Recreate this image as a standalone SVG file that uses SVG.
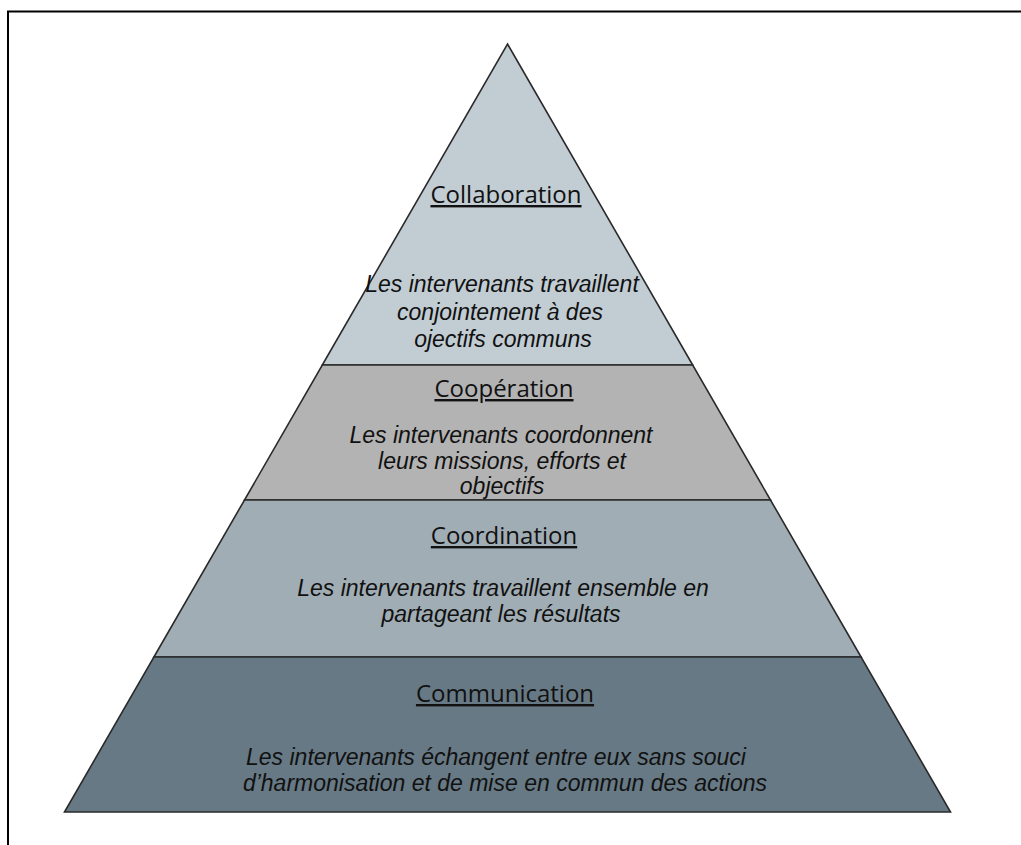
<svg xmlns="http://www.w3.org/2000/svg" width="1021" height="845" viewBox="0 0 1021 845">
<style>
.band{stroke:#2a2a2a;stroke-width:1.6;stroke-linejoin:miter}
.title{font-family:"Open Sans","Liberation Sans",sans-serif;font-size:24px;fill:#111;text-anchor:middle;text-decoration:underline}
.body{font-family:"Liberation Sans",Arial,sans-serif;font-size:23px;font-style:italic;fill:#111;text-anchor:middle}
</style>
<rect width="1021" height="845" fill="#ffffff"/>
<g id="frame">
<polyline points="8,845 8,11.5 1021,11.5" fill="none" stroke="#000" stroke-width="2"/>
</g>
<g id="collaboration">
<polygon class="band" points="507.5,44 692.7,365 322.3,365" fill="#c1ccd3"/>
<text class="title" x="506" y="203">Collaboration</text>
<text class="body" x="502" y="292">Les intervenants travaillent</text>
<text class="body" x="500" y="320">conjointement à des</text>
<text class="body" x="503" y="347">ojectifs communs</text>
</g>
<g id="cooperation">
<polygon class="band" points="322.3,365 692.7,365 770.5,500 244.5,500" fill="#b3b3b3"/>
<text class="title" x="504" y="397">Coopération</text>
<text class="body" x="501" y="443">Les intervenants coordonnent</text>
<text class="body" x="502" y="469">leurs missions, efforts et</text>
<text class="body" x="502" y="494">objectifs</text>
</g>
<g id="coordination">
<polygon class="band" points="244.5,500 770.5,500 861.1,657 153.9,657" fill="#a0adb4"/>
<text class="title" x="504" y="544">Coordination</text>
<text class="body" x="503" y="596">Les intervenants travaillent ensemble en</text>
<text class="body" x="501" y="622">partageant les résultats</text>
</g>
<g id="communication">
<polygon class="band" points="153.9,657 861.1,657 950.5,812 64.5,812" fill="#677984"/>
<text class="title" x="505" y="702">Communication</text>
<text class="body" x="496" y="765">Les intervenants échangent entre eux sans souci</text>
<text class="body" x="505" y="791">d’harmonisation et de mise en commun des actions</text>
</g>
</svg>
